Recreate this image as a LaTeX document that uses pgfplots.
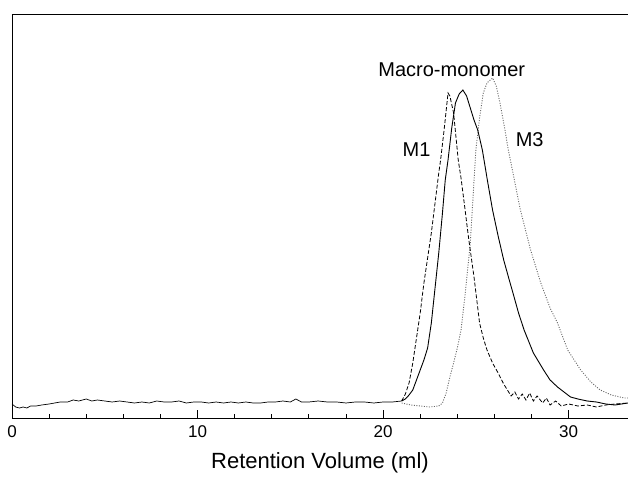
\documentclass[border=0pt]{standalone}
\usepackage{fontspec}
\setmainfont{Liberation Sans}
\usepackage{pgfplots}
\pgfplotsset{compat=1.18}

% baseline shared by the three traces (height in px above the x axis)
\pgfplotstableread{
x y
0.0 14
0.2 11
0.4 10
0.6 11
0.8 10
1.0 12
1.3 12
1.6 13
2.0 14
2.3 15
2.6 16
3.0 16
3.3 18
3.6 17
4.0 19
4.3 17
4.6 18
5.0 17
5.4 16
5.8 17
6.2 16
6.6 15
7.0 16
7.4 15
7.8 17
8.2 16
8.6 16
9.0 17
9.4 15
9.8 16
10.2 16
10.6 15
11.0 16
11.4 15
11.8 16
12.2 15
12.6 16
13.0 15
13.4 15
13.8 16
14.2 16
14.6 17
15.0 16
15.3 19
15.6 16
16.0 16
16.5 17
17.0 16
17.5 16
18.0 15
18.5 16
19.0 16
19.5 15
20.0 16
20.5 16
21.0 17
}\baseline

\pgfplotstableread{
x y
21.0 17
21.2 24
21.4 35
21.6 55
21.8 80
22.0 105
22.2 135
22.4 160
22.6 185
22.8 215
23.0 245
23.1 258
23.3 290
23.5 325
23.6 322
23.8 305
24.05 258
24.2 240
24.4 211
24.6 181
24.9 141
25.2 95
25.4 80
25.6 68
25.9 55
26.2 45
26.5 34
26.7 28
26.9 22
27.1 26
27.3 19
27.5 24
27.7 18
27.9 25
28.1 17
28.3 22
28.6 15
28.8 20
29.0 13
29.3 17
29.6 12
30.0 14
30.5 12
31.0 13
31.5 11
32.0 13
32.5 14
33.2 15
}\mone

\pgfplotstableread{
x y
21.0 17
21.2 19
21.4 23
21.6 28
21.8 38
22.0 48
22.2 58
22.4 70
22.6 95
22.8 130
23.0 165
23.2 205
23.35 238
23.5 258
23.7 290
23.9 315
24.1 324
24.3 328
24.5 322
24.7 310
24.9 298
25.1 288
25.35 268
25.6 240
25.9 208
26.2 182
26.5 158
26.8 138
27.0 125
27.3 105
27.6 88
28.1 65
28.65 48
29.0 38
29.4 31
30.1 21
30.5 19
31.0 17
31.5 16
32.0 14
32.5 13
33.2 15
}\macro

\pgfplotstableread{
x y
21.0 15
21.5 13
22.0 12
22.5 11
23.0 12
23.2 15
23.4 25
23.6 41
23.8 55
24.0 70
24.2 88
24.4 120
24.7 175
25.0 268
25.2 300
25.4 325
25.6 335
25.9 340
26.1 332
26.3 315
26.55 290
26.75 268
27.0 245
27.4 208
27.95 168
28.5 135
29.0 110
29.4 95
29.95 68
30.65 48
31.2 36
31.7 28
32.3 23
33.0 20
33.2 20
}\mthree

\begin{document}
\begin{tikzpicture}
\begin{axis}[
    scale only axis,
    width=616pt,
    height=404pt,
    xmin=0, xmax=33.2,
    ymin=0, ymax=404,
    axis x line=box,
    axis y line=left,
    axis line style={-, line width=0.8pt},
    xtick={0,10,20,30},
    minor x tick num=4,
    xtick pos=bottom,
    ytick=\empty,
    tick align=inside,
    major tick length=8pt,
    minor tick length=4pt,
    tick style={black, line width=0.8pt},
    /pgf/number format/assume math mode=true,
    xticklabel style={font=\fontsize{17}{20}\selectfont, yshift=-4pt},
    xlabel={Retention Volume (ml)},
    xlabel style={font=\fontsize{22}{26}\selectfont, yshift=-8pt},
    clip=false,
]
\addplot[black, line width=0.7pt, mark=none] table {\baseline};
\addplot[black!60, line width=0.9pt, dash pattern=on 1pt off 1.5pt, mark=none] table {\mthree};
\addplot[black, line width=0.8pt, dash pattern=on 4pt off 2pt, mark=none] table {\mone};
\addplot[black, line width=0.9pt, mark=none] table {\macro};
\node[font=\fontsize{20}{24}\selectfont] at (axis cs:23.7,348) {Macro-monomer};
\node[font=\fontsize{20}{24}\selectfont] at (axis cs:21.8,268) {M1};
\node[font=\fontsize{20}{24}\selectfont] at (axis cs:27.9,278) {M3};
\end{axis}
\pgfresetboundingbox
\path ([shift={(-12pt,-60pt)}]current axis.south west) rectangle ([shift={(0pt,14pt)}]current axis.north east);
\end{tikzpicture}
\end{document}
